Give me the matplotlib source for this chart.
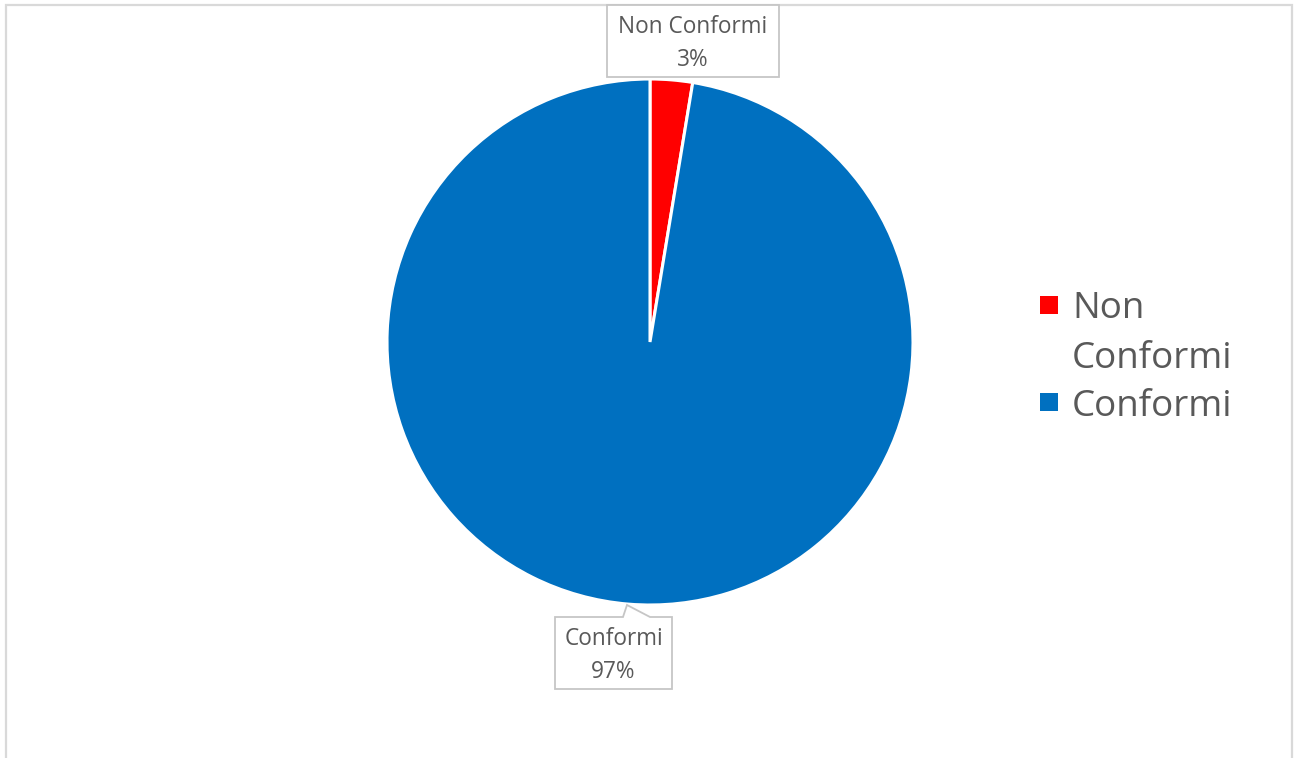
import matplotlib
matplotlib.use("Agg")
import matplotlib.pyplot as plt
from matplotlib.patches import Rectangle, Polygon

categories = ["Non Conformi", "Conformi"]
legend_labels = ["Non\nConformi", "Conformi"]
values = [2.6, 97.4]
pct_labels = ["3%", "97%"]
colors = ["#FF0000", "#0070C0"]

W, H = 1300, 758
fig = plt.figure(figsize=(W / 100, H / 100), dpi=100)
plt.rcParams['font.family'] = ['Open Sans', 'DejaVu Sans']

def fx(px):
    return px / W

def fy(py):
    return 1 - py / H

# chart frame
fig.patches.append(Rectangle((fx(6), fy(790)), fx(1292) - fx(6), fy(5) - fy(790),
                             transform=fig.transFigure, fill=False,
                             edgecolor="#d9d9d9", linewidth=1.6, zorder=0))

cx, cy, r = 650, 342, 263
ax = fig.add_axes([fx(cx - r), fy(cy + r), 2 * r / W, 2 * r / H])
wedges, _ = ax.pie(values, colors=colors, startangle=90, counterclock=False,
                   radius=1, wedgeprops=dict(edgecolor="white", linewidth=2.2))
ax.set_xlim(-1, 1)
ax.set_ylim(-1, 1)
ax.set_aspect('auto')
ax.axis('off')

txt_color = "#595959"
box_color = "#c6c6c6"

# Non Conformi label box
b1 = (607, 5, 779, 77)
fig.patches.append(Polygon([(fx(b1[0]), fy(b1[1])), (fx(b1[2]), fy(b1[1])),
                            (fx(b1[2]), fy(b1[3])), (fx(b1[0]), fy(b1[3]))],
                           closed=True, transform=fig.transFigure,
                           facecolor="white", edgecolor=box_color, linewidth=1.3, zorder=3))
fig.text(fx((b1[0] + b1[2]) / 2), fy(33), categories[0], ha="center", va="baseline",
         fontsize=16.3, color=txt_color, zorder=4)
fig.text(fx((b1[0] + b1[2]) / 2), fy(66), pct_labels[0], ha="center", va="baseline",
         fontsize=16.3, color=txt_color, zorder=4)

# Conformi label box with callout
b2 = (555, 617, 672, 689)
pts = [(555, 617), (623, 617), (627, 605), (650, 617), (672, 617), (672, 689), (555, 689)]
fig.patches.append(Polygon([(fx(x), fy(y)) for x, y in pts], closed=True,
                           transform=fig.transFigure, facecolor="white",
                           edgecolor=box_color, linewidth=1.3, zorder=3))
fig.text(fx((b2[0] + b2[2]) / 2), fy(645), categories[1], ha="center", va="baseline",
         fontsize=16.3, color=txt_color, zorder=4)
fig.text(fx((b2[0] + b2[2]) / 2), fy(678), pct_labels[1], ha="center", va="baseline",
         fontsize=16.3, color=txt_color, zorder=4)

# legend (manual, to match wrapped entry layout)
leg_marker_tops = [296, 393]
leg_first_baselines = [318, 416]
for i, lab in enumerate(legend_labels):
    top = leg_marker_tops[i]
    fig.patches.append(Rectangle((fx(1040), fy(top + 18)), 18 / W, 18 / H,
                                 transform=fig.transFigure, facecolor=colors[i],
                                 edgecolor="none", zorder=3))
    for j, line in enumerate(lab.split("\n")):
        fig.text(fx(1072), fy(leg_first_baselines[i] + 50 * j), line,
                 ha="left", va="baseline", fontsize=26.5, color=txt_color)

fig.savefig("out.png", dpi=100)
